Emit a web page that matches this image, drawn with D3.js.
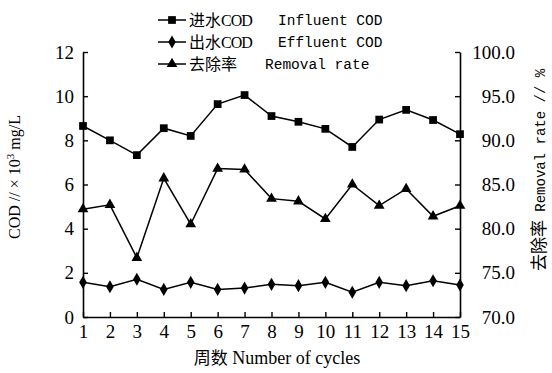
<!DOCTYPE html>
<html>
<head>
<meta charset="utf-8">
<script src="https://cdn.jsdelivr.net/npm/d3@7"></script>
<style>
  body { margin: 0; background: #fff; }
  svg { display: block; }
</style>
</head>
<body>
<div id="chart"></div>
<script>
// data
var cycles = [1, 2, 3, 4, 5, 6, 7, 8, 9, 10, 11, 12, 13, 14, 15];
var influent = [8.65, 8.0, 7.33, 8.55, 8.2, 9.64, 10.05, 9.1, 8.84, 8.52, 7.7, 8.94, 9.38, 8.92, 8.28];
var effluent = [1.57, 1.37, 1.71, 1.25, 1.57, 1.25, 1.31, 1.48, 1.42, 1.57, 1.12, 1.57, 1.42, 1.64, 1.45];
var removal = [82.2, 82.7, 76.7, 85.7, 80.5, 86.8, 86.7, 83.4, 83.1, 81.1, 85.0, 82.6, 84.5, 81.4, 82.6];
var leftTicks = [0, 2, 4, 6, 8, 10, 12];
var rightTicks = [70, 75, 80, 85, 90, 95, 100];

var W = 552, H = 373;
var margin = {top: 52, right: 92, bottom: 56, left: 83};
var SERIF = "'Liberation Serif', 'Times New Roman', serif";
var MONO = "'Liberation Mono', monospace";
var CJK = "'Noto Sans CJK SC', sans-serif";

var svg = d3.select("#chart")
  .append("svg")
    .attr("width", W)
    .attr("height", H);

var x = d3.scaleLinear()
  .domain([1, 15])
  .range([margin.left, W - margin.right]);
var y = d3.scaleLinear()
  .domain([0, 12])
  .range([H - margin.bottom, margin.top]);
var yR = d3.scaleLinear()
  .domain([70, 100])
  .range([H - margin.bottom, margin.top]);

// axes, ticks pointing inward
var gx = svg.append("g")
  .attr("transform", "translate(0," + (H - margin.bottom) + ")")
  .call(d3.axisBottom(x).tickValues(cycles).tickSizeInner(-5).tickSizeOuter(0).tickPadding(8));
var gy = svg.append("g")
  .attr("transform", "translate(" + margin.left + ",0)")
  .call(d3.axisLeft(y).tickValues(leftTicks).tickSizeInner(-5).tickSizeOuter(0).tickPadding(9));
var gyR = svg.append("g")
  .attr("transform", "translate(" + (W - margin.right) + ",0)")
  .call(d3.axisRight(yR).tickValues(rightTicks).tickFormat(d3.format(".1f")).tickSizeInner(-5).tickSizeOuter(0));
gyR.selectAll(".tick text").attr("text-anchor", "end").attr("x", 55);

[gx, gy, gyR].forEach(function(g) {
  g.attr("font-family", null).attr("font-size", null);
  g.selectAll(".tick text")
    .attr("fill", "#000")
    .style("font-family", SERIF)
    .style("font-size", "19px");
  g.select(".domain").attr("stroke", "#000").attr("stroke-width", 1.6);
  g.selectAll(".tick line").attr("stroke", "#000").attr("stroke-width", 1.4);
});

// series
var series = [
  {name: "influent", values: influent, scale: y, symbol: d3.symbolSquare, size: 60},
  {name: "effluent", values: effluent, scale: y, symbol: d3.symbolDiamond, size: 50},
  {name: "removal", values: removal, scale: yR, symbol: d3.symbolTriangle, size: 50}
];

series.forEach(function(s) {
  var line = d3.line()
    .x(function(d, i) { return x(cycles[i]); })
    .y(function(d) { return s.scale(d); });
  svg.append("path")
    .datum(s.values)
    .attr("fill", "none")
    .attr("stroke", "#000")
    .attr("stroke-width", 1.5)
    .attr("d", line);
  svg.selectAll(".m-" + s.name)
    .data(s.values)
    .enter()
    .append("path")
      .attr("class", "m-" + s.name)
      .attr("d", d3.symbol().type(s.symbol).size(s.size))
      .attr("transform", function(d, i) { return "translate(" + x(cycles[i]) + "," + s.scale(d) + ")"; })
      .attr("fill", "#000");
});

// legend
var legendRows = [
  {cn: "进水", cod: "COD", en: "Influent COD", enX: 278},
  {cn: "出水", cod: "COD", en: "Effluent COD", enX: 278},
  {cn: "去除率", cod: "", en: "Removal rate", enX: 265}
];
legendRows.forEach(function(r, i) {
  var ly = 20 + i * 22;
  svg.append("line")
    .attr("x1", 158).attr("x2", 186)
    .attr("y1", ly).attr("y2", ly)
    .attr("stroke", "#000").attr("stroke-width", 1.5);
  svg.append("path")
    .attr("d", d3.symbol().type(series[i].symbol).size(series[i].size)())
    .attr("transform", "translate(172," + ly + ")")
    .attr("fill", "#000");
  var t = svg.append("text")
    .attr("x", 189).attr("y", ly + 6);
  t.append("tspan")
    .style("font-family", CJK)
    .style("font-size", "16px")
    .text(r.cn);
  t.append("tspan")
    .style("font-family", SERIF)
    .style("font-size", "16px")
    .style("letter-spacing", "-1px")
    .text(r.cod);
  svg.append("text")
    .attr("x", r.enX).attr("y", ly + 5)
    .style("font-family", MONO)
    .style("font-size", "14.5px")
    .text(r.en);
});

// axis titles
var yt = svg.append("text")
  .attr("transform", "translate(20,177) rotate(-90)")
  .attr("text-anchor", "middle")
  .style("font-family", SERIF)
  .style("font-size", "16px");
yt.append("tspan").text("COD // × 10");
yt.append("tspan").attr("dy", -6).style("font-size", "11px").text("3");
yt.append("tspan").attr("dy", 6).text(" mg/L");

var rt = svg.append("text")
  .attr("transform", "translate(545,170) rotate(-90)")
  .attr("text-anchor", "middle");
rt.append("tspan").style("font-family", CJK).style("font-size", "17px").text("去除率");
rt.append("tspan").style("font-family", MONO).style("font-size", "14px").text(" Removal rate // %");

var xt = svg.append("text")
  .attr("x", 277)
  .attr("y", 364)
  .attr("text-anchor", "middle");
xt.append("tspan").style("font-family", CJK).style("font-size", "17px").text("周数");
xt.append("tspan").style("font-family", SERIF).style("font-size", "18px").text(" Number of cycles");
</script>
</body>
</html>
